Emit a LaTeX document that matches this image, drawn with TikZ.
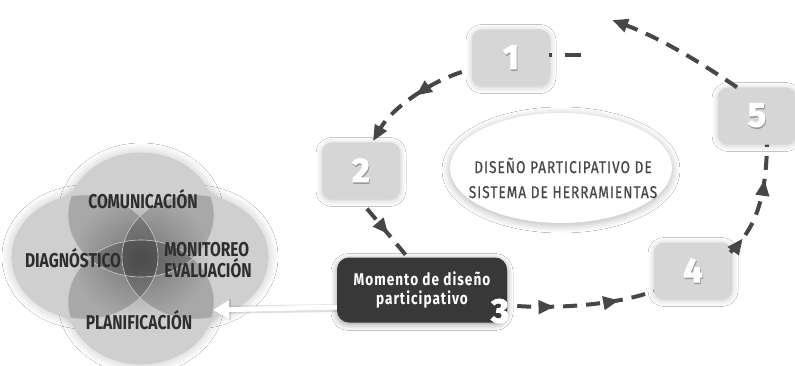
\documentclass[tikz,border=0pt]{standalone}
\usepackage{fontspec}
\setmainfont{Fira Sans}
\newfontfamily\cond{Fira Sans}[FakeStretch=0.78]
\newfontfamily\condsp{Fira Sans}[FakeStretch=0.8,LetterSpace=6]
\newfontfamily\condspb{Fira Sans}[FakeStretch=0.8,LetterSpace=6,FakeBold=0.6]
\newfontfamily\numfont{Fira Sans}[FakeBold=3]
\usetikzlibrary{arrows.meta,shadows.blur,decorations.markings,shapes.geometric,fadings}
\tikzfading[name=centerfade, inner color=transparent!0, outer color=transparent!100]
\newcommand\numtxt[1]{\makebox[0pt]{\raisebox{-1.5pt}{\hspace{1.5pt}\color{black!40}#1}}\makebox[0pt]{\color{white}#1}}
\tikzset{
  numbox/.style={rounded corners=10pt, fill=black!16, minimum width=78pt, minimum height=57pt,
     blur shadow={shadow blur steps=8, shadow xshift=0pt, shadow yshift=-1pt, shadow blur radius=6pt, shadow opacity=22},
     font=\numfont\bfseries\fontsize{34}{34}\selectfont, inner sep=0pt},
  darkbox/.style={rounded corners=12pt, fill=black!78, minimum width=170pt, minimum height=65pt,
     blur shadow={shadow blur steps=8, shadow xshift=0pt, shadow yshift=-2pt, shadow blur radius=6pt, shadow opacity=40},
     text=white, align=center, font=\condsp\bfseries\fontsize{17}{19}\selectfont},
  venn/.style={ellipse, minimum width=146pt, minimum height=124pt, inner sep=0pt},
  venntext/.style={text=black!82, font=\cond\bfseries\fontsize{20}{19}\selectfont, inner sep=0pt},
  flow/.style={draw=black!72, line width=4pt, dash pattern=on 14pt off 9pt},
  tip/.style={-{Triangle[length=16pt,width=13pt]}},
  midarrow/.style={postaction={decorate, decoration={markings, mark=at position #1 with {\arrow{Triangle[length=16pt,width=13pt]}}}}},
}
\begin{document}
\begin{tikzpicture}[x=1pt,y=-1pt]
\useasboundingbox[fill=white] (0,0) rectangle (795,366);

% Venn diagram: shadows, white base, translucent fills, outlines
\foreach \p in {(141,215), (85,257), (195,257), (141,302)}{
  \node[venn, fill=white, blur shadow={shadow blur steps=10, shadow xshift=0pt, shadow yshift=0pt, shadow blur radius=10pt, shadow opacity=25}] at \p {};
}
\foreach \p in {(141,215), (85,257), (195,257), (141,302)}{
  \node[venn, fill=white] at \p {};
}
\foreach \n/\p in {vt/{(141,215)}, vl/{(85,257)}, vr/{(195,257)}, vb/{(141,302)}}{
  \node[venn, fill=black, fill opacity=0.19] (\n) at \p {};
}
\fill[black, opacity=0.3, path fading=centerfade] (141,258) ellipse (70 and 62);
\foreach \p in {(141,215), (85,257), (195,257), (141,302)}{
  \node[venn, draw=white!60!gray, line width=0.6pt] at \p {};
}
\node[venntext] (com) at (143,199) {COMUNICACIÓN};
\node[venntext] (dia) at (73,258) {DIAGNÓSTICO};
\node[venntext, align=left] (mon) at (208,260) {MONITOREO\\EVALUACIÓN};
\node[venntext] (pla) at (139,320) {PLANIFICACIÓN};

% central ellipse
\node[ellipse, fill=white, minimum width=222pt, minimum height=110pt,
  blur shadow={shadow blur steps=10, shadow xshift=0pt, shadow yshift=-2pt, shadow blur radius=8pt, shadow opacity=30}] (ell) at (561,168) {};
\node[align=center, text=black!72, font=\condspb\fontsize{17}{25}\selectfont] (elltext) at (563,178) {DISEÑO PARTICIPATIVO DE\\SISTEMA DE HERRAMIENTAS};

% number boxes
\node[numbox] (n1) at (511,58) {\numtxt{1}};
\node[numbox] (n2) at (361,171) {\numtxt{2}};
\node[numbox] (n4) at (693,271) {\numtxt{4}};
\node[numbox] (n5) at (757,116) {\numtxt{5}};
\node[darkbox] (m) at (422,290) {Momento de diseño\\participativo};
\node[font=\numfont\bfseries\fontsize{34}{34}\selectfont, text=white, inner sep=0pt] (n3) at (500,311) {3};

% white arrow
\coordinate (vp) at (213,310);
\draw[line width=8pt, draw=black, opacity=0.12, -{Triangle[length=18pt,width=21pt]}] ([yshift=-18pt]m.west) -- (vp);
\draw[line width=5pt, draw=white, -{Triangle[length=16pt,width=18pt]}] ([yshift=-17pt]m.west) -- (vp);

% cycle arrows
\draw[flow, tip, midarrow=0.45] ([xshift=-10pt,yshift=-14pt]n1.west) .. controls (430,82) and (392,108) .. ([xshift=12pt,yshift=1pt]n2.north);
\draw[flow, midarrow=0.55] ([xshift=6pt,yshift=-9pt]n2.south) -- ([xshift=-16pt,yshift=2pt]m.north);
\draw[flow, midarrow=0.27, midarrow=0.74] ([xshift=10pt,yshift=-16pt]m.east) .. controls (560,309) and (620,304) .. ([yshift=-20pt]n4.west);
\draw[flow, midarrow=0.16, midarrow=0.7] ([xshift=-2pt,yshift=-10pt]n4.north east) .. controls (752,232) and (766,205) .. ([xshift=10pt]n5.south);
\draw[flow, tip] ([xshift=-20pt]n5.north) .. controls (700,62) and (660,38) .. (612,20) coordinate (top);
\draw[flow, dash pattern=on 3pt off 13pt on 16pt] ([xshift=-1pt,yshift=3pt]n1.east) -- ++(33,0) coordinate (stub);
\end{tikzpicture}
\end{document}
